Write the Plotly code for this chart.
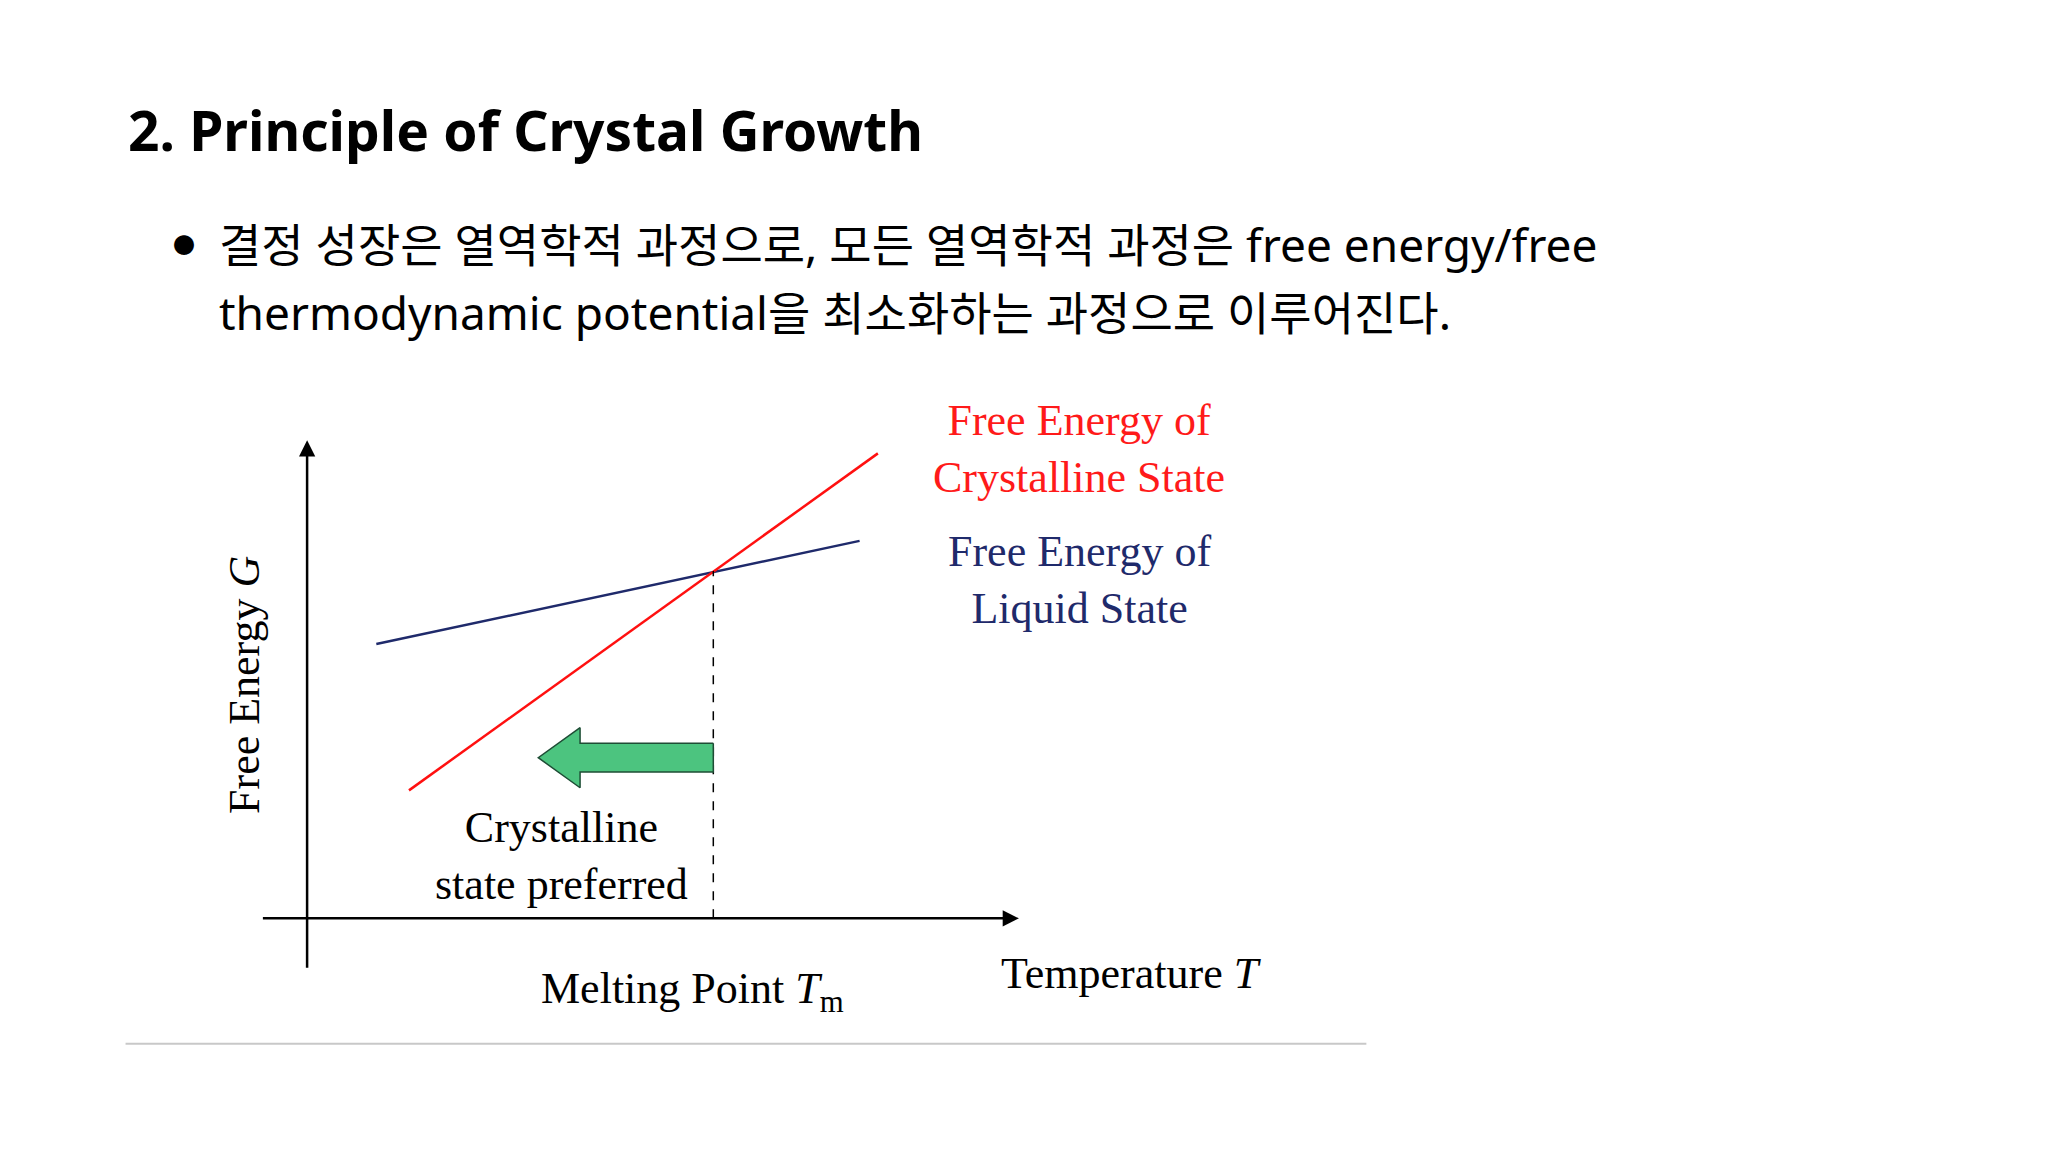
import plotly.graph_objects as go

# diagram values (T in arbitrary units, G in arbitrary units)
liquid_T = [0.53, 4.23]
liquid_G = [2.10, 2.89]
crystal_T = [0.78, 4.37]
crystal_G = [0.98, 3.56]
melt_T = 3.11
melt_G = 2.66
arrow_tail_T = 3.11
arrow_tip_T = 1.77
arrow_G = 1.23

W, H = 1568, 882  # layout grid in reference units
DX, DY = -6, -7   # small correction of rendering offset


def px(x):
    return (x + DX) / W


def py(y):
    return 1 - (y + DY) / H


serif = "Liberation Serif"
fig = go.Figure()

fig.add_trace(go.Scatter(x=liquid_T, y=liquid_G, mode="lines",
                         line=dict(color="#1f2a6b", width=2.5), xaxis="x", yaxis="y"))
fig.add_trace(go.Scatter(x=crystal_T, y=crystal_G, mode="lines",
                         line=dict(color="#ff1010", width=2.5), xaxis="x", yaxis="y"))
fig.add_trace(go.Scatter(x=[melt_T, melt_T], y=[0, melt_G], mode="lines",
                         line=dict(color="black", width=1.5, dash="dash"), xaxis="x", yaxis="y"))

# green arrow polygon
bh, hh, hl = 0.11, 0.23, 0.32
ax_ = [arrow_tail_T, arrow_tip_T + hl, arrow_tip_T + hl, arrow_tip_T,
       arrow_tip_T + hl, arrow_tip_T + hl, arrow_tail_T, arrow_tail_T]
ay_ = [arrow_G + bh, arrow_G + bh, arrow_G + hh, arrow_G,
       arrow_G - hh, arrow_G - bh, arrow_G - bh, arrow_G + bh]
fig.add_trace(go.Scatter(x=ax_, y=ay_, mode="lines", fill="toself", fillcolor="#4cc47f",
                         line=dict(color="#1e4d35", width=1.5), xaxis="x", yaxis="y"))

fig.update_layout(
    width=2048, height=1152, margin=dict(l=0, r=0, t=0, b=0),
    paper_bgcolor="white", plot_bgcolor="rgba(0,0,0,0)", showlegend=False,
    xaxis=dict(domain=[px(200), px(780)], range=[-0.35, 5.45], visible=False, fixedrange=True),
    yaxis=dict(domain=[py(743), py(338)], range=[-0.39, 3.66], visible=False, fixedrange=True),
)

# axes arrows
fig.add_annotation(x=5.45, y=0, ax=-0.35, ay=0, xref="x", yref="y", axref="x", ayref="y",
                   showarrow=True, arrowhead=2, arrowsize=1.3, arrowwidth=2.5, arrowcolor="black", text="")
fig.add_annotation(x=0, y=3.66, ax=0, ay=-0.39, xref="x", yref="y", axref="x", ayref="y",
                   showarrow=True, arrowhead=2, arrowsize=1.3, arrowwidth=2.5, arrowcolor="black", text="")

fig.add_shape(type="line", xref="paper", yref="paper", x0=px(96), x1=px(1046),
              y0=py(800), y1=py(800), line=dict(color="#c8c8c8", width=2))


def txt(x, y, s, size, color="black", family=serif, xanchor="center", angle=0):
    fig.add_annotation(x=px(x), y=py(y), xref="paper", yref="paper", text=s, showarrow=False,
                       xanchor=xanchor, yanchor="middle", textangle=angle, align="center",
                       font=dict(family=family, size=size, color=color))


sans = "Noto Sans, Noto Sans CJK KR"
txt(96, 100, "<b>2. Principle of Crystal Growth</b>", 55, family="Noto Sans", xanchor="left")
txt(131, 188, "●", 22, family=sans, xanchor="left")
txt(166, 188, "결정 성장은 열역학적 과정으로, 모든 열역학적 과정은 free energy/free", 46,
    family=sans, xanchor="left")
txt(166, 240, "thermodynamic potential을 최소화하는 과정으로 이루어진다.", 46,
    family=sans, xanchor="left")

txt(826, 345, "Free Energy of<br>Crystalline State", 44, color="#ff1a1a")
txt(826, 445, "Free Energy of<br>Liquid State", 44, color="#1f2a6b")
txt(430, 656, "Crystalline<br>state preferred", 44)
txt(530, 760, "Melting Point <i>T</i><sub>m</sub>", 44)
txt(866, 746, "Temperature <i>T</i>", 44)
txt(187, 525, "Free Energy <i>G</i>", 44, angle=-90)

fig.write_html("out.html")
